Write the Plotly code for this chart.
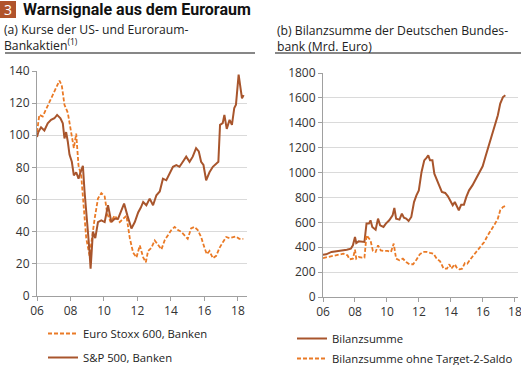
import plotly.graph_objects as go

# ---------------- data ----------------
stoxx_x = [2006.0, 2006.14, 2006.34, 2006.54, 2006.74, 2006.94, 2007.14, 2007.34, 2007.48, 2007.64,
           2007.84, 2008.0, 2008.2, 2008.34, 2008.48, 2008.64, 2008.8, 2008.94, 2009.14, 2009.28,
           2009.44, 2009.64, 2009.84, 2010.04, 2010.2, 2010.4, 2010.64, 2010.94, 2011.14, 2011.34,
           2011.54, 2011.74, 2011.94, 2012.14, 2012.34, 2012.5, 2012.63, 2012.83, 2013.03, 2013.23,
           2013.43, 2013.62, 2013.82, 2014.02, 2014.22, 2014.42, 2014.61, 2014.81, 2015.0, 2015.2,
           2015.41, 2015.6, 2015.8, 2016.0, 2016.14, 2016.3, 2016.5, 2016.7, 2016.9, 2017.1,
           2017.3, 2017.5, 2017.7, 2017.88, 2018.08, 2018.32]
stoxx_y = [102, 112.7, 111.7, 116, 121, 125, 129, 134, 131, 119,
           114, 104, 92, 101, 81, 75, 56, 36, 25, 36,
           48, 60.6, 64, 62, 51, 46, 50, 46, 48, 50,
           36, 27, 24, 31.5, 24, 21, 28, 30, 34.6, 31.5,
           29, 34.6, 37.7, 41, 43, 41, 40, 37.7, 35.6, 42,
           43, 41, 36.7, 30, 26, 28, 23.5, 25, 30, 33.5,
           36.7, 36, 36.7, 37, 35.6, 35.6]

sp_x = [2006.0, 2006.08, 2006.24, 2006.44, 2006.64, 2006.84, 2007.04, 2007.2, 2007.4, 2007.54,
        2007.64, 2007.74, 2007.84, 2007.94, 2008.08, 2008.2, 2008.34, 2008.48, 2008.6, 2008.74,
        2008.84, 2008.94, 2009.04, 2009.14, 2009.2, 2009.34, 2009.48, 2009.64, 2009.84, 2010.04,
        2010.24, 2010.44, 2010.64, 2010.84, 2011.04, 2011.2, 2011.4, 2011.64, 2011.84, 2012.04,
        2012.2, 2012.34, 2012.53, 2012.73, 2012.93, 2013.13, 2013.33, 2013.52, 2013.72, 2013.92,
        2014.12, 2014.32, 2014.51, 2014.71, 2014.91, 2015.11, 2015.3, 2015.5, 2015.66, 2015.8,
        2015.94, 2016.1, 2016.3, 2016.5, 2016.7, 2016.83, 2016.93, 2017.09, 2017.19, 2017.33,
        2017.5, 2017.64, 2017.78, 2017.88, 2018.04, 2018.14, 2018.24, 2018.34]
sp_y = [99, 102, 105, 103, 107.5, 109.6, 110.6, 112.7, 110.6, 107.5,
        98, 102, 96, 88, 83.5, 75, 77, 73, 77, 81,
        65, 50, 40, 27, 17, 40, 36, 46, 47, 46,
        56.5, 46, 48, 48, 54, 57.5, 50, 42, 46, 52,
        55, 58.5, 56.5, 60.6, 56.5, 62.7, 65, 73, 72, 76,
        80.4, 81.5, 80.4, 83.5, 86.7, 83.5, 86.7, 92, 90, 83.5,
        81.5, 72, 77, 80.4, 82.5, 83.5, 106.5, 107.5, 112.7, 104,
        109.6, 106.5, 117, 119, 137.7, 131.5, 123, 125]

bil_x = [2006.0, 2006.2, 2006.53, 2006.85, 2007.17, 2007.49, 2007.74, 2007.87, 2008.0, 2008.08,
         2008.23, 2008.44, 2008.59, 2008.72, 2008.87, 2008.97, 2009.08, 2009.29, 2009.44, 2009.57,
         2009.78, 2009.93, 2010.14, 2010.35, 2010.46, 2010.57, 2010.78, 2010.93, 2011.06, 2011.2,
         2011.35, 2011.52, 2011.69, 2011.84, 2011.99, 2012.16, 2012.33, 2012.48, 2012.58, 2012.69,
         2012.84, 2012.96, 2013.11, 2013.26, 2013.43, 2013.64, 2013.81, 2013.96, 2014.11, 2014.24,
         2014.39, 2014.49, 2014.64, 2014.81, 2014.96, 2015.13, 2015.34, 2015.55, 2015.77, 2015.98,
         2016.15, 2016.36, 2016.57, 2016.78, 2016.93, 2017.08, 2017.25, 2017.4]
bil_y = [340, 343, 362, 367, 375, 380, 388, 415, 482, 434,
         447, 442, 442, 590, 590, 616, 563, 541, 630, 576,
         563, 590, 616, 656, 715, 630, 622, 670, 637, 630,
         611, 643, 763, 817, 857, 1005, 1098, 1120, 1138, 1098,
         1098, 991, 938, 897, 844, 836, 809, 771, 737, 763,
         723, 697, 742, 742, 804, 857, 897, 951, 1005, 1050,
         1125, 1211, 1299, 1380, 1460, 1554, 1607, 1621]

ohne_x = [2006.0, 2006.32, 2006.64, 2006.96, 2007.27, 2007.53, 2007.66, 2007.87, 2008.0, 2008.08,
          2008.23, 2008.44, 2008.59, 2008.72, 2008.87, 2008.97, 2009.12, 2009.29, 2009.44, 2009.61,
          2009.82, 2010.03, 2010.25, 2010.42, 2010.57, 2010.78, 2010.99, 2011.2, 2011.41, 2011.63,
          2011.84, 2012.05, 2012.27, 2012.48, 2012.69, 2012.9, 2013.11, 2013.32, 2013.54, 2013.75,
          2013.9, 2014.02, 2014.24, 2014.39, 2014.54, 2014.7, 2014.87, 2015.02, 2015.24, 2015.45,
          2015.66, 2015.87, 2016.08, 2016.3, 2016.51, 2016.72, 2016.93, 2017.08, 2017.25, 2017.4]
ohne_y = [313, 321, 335, 340, 348, 335, 303, 308, 380, 308,
          321, 316, 316, 496, 469, 455, 370, 362, 415, 375,
          370, 370, 362, 429, 308, 295, 308, 281, 263, 263,
          300, 343, 362, 362, 354, 348, 308, 287, 228, 228,
          263, 228, 263, 228, 222, 228, 273, 268, 308, 343,
          375, 407, 442, 496, 536, 581, 630, 697, 723, 731]

year_ticks = [2006, 2008, 2010, 2012, 2014, 2016, 2018]
year_labels = ["06", "08", "10", "12", "14", "16", "18"]
left_yticks = [0, 20, 40, 60, 80, 100, 120, 140]
right_yticks = [0, 200, 400, 600, 800, 1000, 1200, 1400, 1600, 1800]

# ---------------- styling ----------------
W, H = 521, 365
BROWN = "#A8552C"
ORANGE = "#EA7A26"
FONT = "Open Sans"
TXT = "#222222"


def px(x):
    return x / W


def py(y):
    return 1 - y / H


fig = go.Figure()
fig.add_trace(go.Scatter(x=stoxx_x, y=stoxx_y, mode="lines", name="Euro Stoxx 600, Banken",
                         line=dict(color=ORANGE, width=1.8, dash="4px,2px"),
                         xaxis="x", yaxis="y", legend="legend", legendgroup="a1"))
fig.add_trace(go.Scatter(x=sp_x, y=sp_y, mode="lines", name="S&P 500, Banken",
                         line=dict(color=BROWN, width=2),
                         xaxis="x", yaxis="y", legend="legend", legendgroup="a2"))
fig.add_trace(go.Scatter(x=bil_x, y=bil_y, mode="lines", name="Bilanzsumme",
                         line=dict(color=BROWN, width=2),
                         xaxis="x2", yaxis="y2", legend="legend2", legendgroup="b1"))
fig.add_trace(go.Scatter(x=ohne_x, y=ohne_y, mode="lines", name="Bilanzsumme ohne Target-2-Saldo",
                         line=dict(color=ORANGE, width=1.8, dash="4px,2px"),
                         xaxis="x2", yaxis="y2", legend="legend2", legendgroup="b2"))

axis_common = dict(showline=True, linecolor="#A0A0A0", linewidth=1, ticks="outside",
                   tickcolor="#A0A0A0", ticklen=4, tickfont=dict(family=FONT, size=12, color="#333333"),
                   zeroline=False, ticklabeloverflow="allow")

fig.update_layout(
    width=W, height=H,
    margin=dict(l=0, r=0, t=0, b=0, autoexpand=False),
    paper_bgcolor="white", plot_bgcolor="white",
    font=dict(family=FONT, size=12, color=TXT),
    xaxis=dict(domain=[px(37), px(247)], range=[2006, 2018.54], tickvals=year_ticks,
               ticktext=year_labels, showgrid=False, anchor="y", **axis_common),
    yaxis=dict(domain=[py(296), py(71)], range=[0, 140], tickvals=left_yticks,
               showgrid=True, gridcolor="#DADADA", gridwidth=1, anchor="x", **axis_common),
    xaxis2=dict(domain=[px(323), px(518)], range=[2006, 2018.19], tickvals=year_ticks,
                ticktext=year_labels, showgrid=False, anchor="y2", **axis_common),
    yaxis2=dict(domain=[py(297), py(73)], range=[0, 1800], tickvals=right_yticks,
                showgrid=True, gridcolor="#DADADA", gridwidth=1, anchor="x2", **axis_common),
    legend=dict(x=px(43), y=py(319), xanchor="left", yanchor="top", tracegroupgap=5,
                font=dict(family=FONT, size=11.3, color=TXT), bgcolor="rgba(0,0,0,0)"),
    legend2=dict(x=px(292), y=py(324), xanchor="left", yanchor="top", tracegroupgap=1,
                 font=dict(family=FONT, size=11.3, color=TXT), bgcolor="rgba(0,0,0,0)"),
    shapes=[
        dict(type="rect", xref="paper", yref="paper", x0=px(0), x1=px(16), y0=py(18), y1=py(1),
             fillcolor="#B0532B", line=dict(width=0)),
        dict(type="line", xref="paper", yref="paper", x0=px(5), x1=px(255), y0=py(53), y1=py(53),
             line=dict(color="#111111", width=1.2)),
        dict(type="line", xref="paper", yref="paper", x0=px(275), x1=px(521), y0=py(53), y1=py(53),
             line=dict(color="#111111", width=1.2)),
    ],
    annotations=[
        dict(text="3", x=px(8), y=py(9.5), xref="paper", yref="paper", showarrow=False,
             xanchor="center", yanchor="middle", font=dict(family=FONT, size=14, color="white")),
        dict(text="<b>Warnsignale aus dem Euroraum</b>", x=px(21), y=py(9.5), xref="paper", yref="paper",
             showarrow=False, xanchor="left", yanchor="middle",
             font=dict(family="Roboto", size=16, color="#111111")),
        dict(text="(a) Kurse der US- und Euroraum-", x=px(2), y=py(29.5), xref="paper", yref="paper",
             showarrow=False, xanchor="left", yanchor="middle", font=dict(family=FONT, size=12.2, color=TXT)),
        dict(text="Bankaktien<sup>(1)</sup>", x=px(2), y=py(45.5), xref="paper", yref="paper",
             showarrow=False, xanchor="left", yanchor="middle", font=dict(family=FONT, size=12.2, color=TXT)),
        dict(text="(b) Bilanzsumme der Deutschen Bundes-", x=px(275), y=py(30), xref="paper", yref="paper",
             showarrow=False, xanchor="left", yanchor="middle", font=dict(family=FONT, size=12.2, color=TXT)),
        dict(text="bank (Mrd. Euro)", x=px(275), y=py(46), xref="paper", yref="paper",
             showarrow=False, xanchor="left", yanchor="middle", font=dict(family=FONT, size=12.2, color=TXT)),
    ],
)

fig.write_html("out.html", config={"displayModeBar": False},
               post_script="document.body.style.margin='0';document.body.style.padding='0';")
